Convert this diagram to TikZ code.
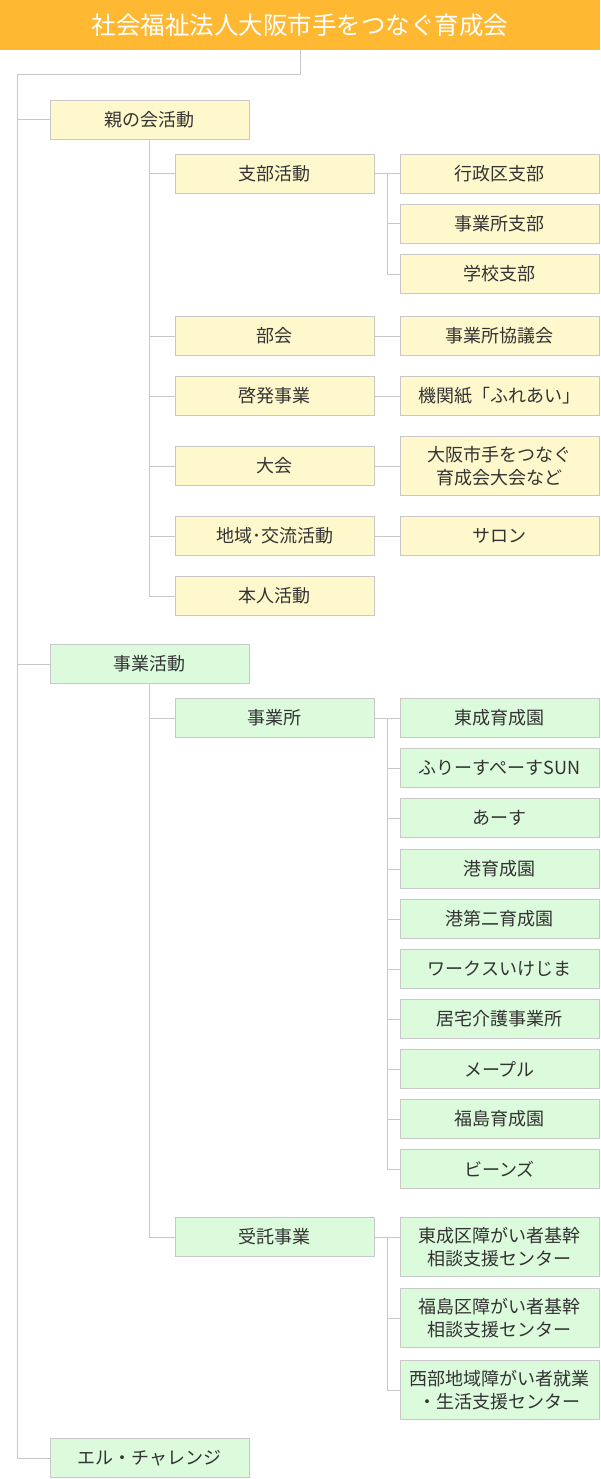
\documentclass[tikz,border=0pt]{standalone}
\usepackage{fontspec}
\setmainfont{Noto Sans CJK JP}
\definecolor{titre}{RGB}{255,184,50}
\definecolor{jaune}{RGB}{255,248,204}
\definecolor{vert}{RGB}{220,250,220}
\definecolor{trait}{RGB}{200,200,200}
\definecolor{texte}{RGB}{51,51,51}

\begin{document}
\begin{tikzpicture}[x=1pt, y=-1pt]
\tikzset{boite/.style={draw=trait, line width=1pt, minimum width=199pt, minimum height=39pt, inner sep=0pt, align=center, text=texte, font=\fontsize{18}{22.5}\selectfont},
jboite/.style={boite, fill=jaune},
vboite/.style={boite, fill=vert},
lien/.style={draw=trait, line width=1pt}}
\useasboundingbox (0,0) rectangle (600,1479);
\fill[white] (0,0) rectangle (600,1479);
\node[fill=titre, minimum width=600pt, minimum height=50pt, inner sep=0pt, text=white, font=\fontsize{24.5}{28}\selectfont] (titre) at (300,25) {社会福祉法人大阪市手をつなぐ育成会};
% niveau 1
\node[jboite] (oya) at (149.5,120) {親の会活動};
\node[vboite] (jigyo) at (149.5,664) {事業活動};
\node[vboite] (el) at (149.5,1458) {エル・チャレンジ};
%親の会活動
\node[jboite] (shibu) at (274.5,174) {支部活動};
\node[jboite] (bukai) at (274.5,336) {部会};
\node[jboite] (keihatsu) at (274.5,396) {啓発事業};
\node[jboite] (taikai) at (274.5,466) {大会};
\node[jboite] (chiiki) at (274.5,536) {地域･交流活動};
\node[jboite] (honnin) at (274.5,596) {本人活動};
\node[jboite] (gyosei) at (499.5,174) {行政区支部};
\node[jboite] (jshibu) at (499.5,224) {事業所支部};
\node[jboite] (gakko) at (499.5,274) {学校支部};
\node[jboite] (kyogi) at (499.5,336) {事業所協議会};
\node[jboite] (kikan) at (499.5,396) {機関紙「ふれあい」};
\node[jboite, minimum height=59pt] (tkai) at (499.5,466) {大阪市手をつなぐ\\育成会大会など};
\node[jboite] (salon) at (499.5,536) {サロン};
% 事業活動
\node[vboite] (jsho) at (274.5,718) {事業所};
\node[vboite] (itaku) at (274.5,1237) {受託事業};
\node[vboite] (E1) at (499.5,718) {東成育成園};
\node[vboite] (E2) at (499.5,768) {ふりーすぺーすSUN};
\node[vboite] (E3) at (499.5,818) {あーす};
\node[vboite] (E4) at (499.5,869) {港育成園};
\node[vboite] (E5) at (499.5,919) {港第二育成園};
\node[vboite] (E6) at (499.5,969) {ワークスいけじま};
\node[vboite] (E7) at (499.5,1019) {居宅介護事業所};
\node[vboite] (E8) at (499.5,1069) {メープル};
\node[vboite] (E9) at (499.5,1119) {福島育成園};
\node[vboite] (E10) at (499.5,1169) {ビーンズ};
\node[vboite, minimum height=59pt] (C1) at (499.5,1247) {東成区障がい者基幹\\相談支援センター};
\node[vboite, minimum height=59pt] (C2) at (499.5,1318) {福島区障がい者基幹\\相談支援センター};
\node[vboite, minimum height=59pt] (C3) at (499.5,1390) {西部地域障がい者就業\\・生活支援センター};
% traits
\coordinate (T) at (17,75);
\coordinate (b1) at (387,174);
\coordinate (b2) at (387,718);
\coordinate (b3) at (387,1237);
\draw[lien] (titre.south) |- (T) |- (el.west);
\draw[lien] (T |- oya.west) -- (oya.west);
\draw[lien] (T |- jigyo.west) -- (jigyo.west);
\draw[lien] (oya.south) |- (honnin.west);
\draw[lien] (oya.south |- shibu.west) -- (shibu.west);
\draw[lien] (oya.south |- bukai.west) -- (bukai.west);
\draw[lien] (oya.south |- keihatsu.west) -- (keihatsu.west);
\draw[lien] (oya.south |- taikai.west) -- (taikai.west);
\draw[lien] (oya.south |- chiiki.west) -- (chiiki.west);
\draw[lien] (shibu.east) -- (gyosei.west);
\draw[lien] (b1) |- (jshibu.west);
\draw[lien] (b1) |- (gakko.west);
\draw[lien] (bukai.east) -- (kyogi.west);
\draw[lien] (keihatsu.east) -- (kikan.west);
\draw[lien] (taikai.east) -- (tkai.west);
\draw[lien] (chiiki.east) -- (salon.west);
\draw[lien] (jigyo.south) |- (itaku.west);
\draw[lien] (jigyo.south |- jsho.west) -- (jsho.west);
\draw[lien] (jsho.east) -- (E1.west);
\draw[lien] (b2) |- (E10.west);
\draw[lien] (b2 |- E2.west) -- (E2.west);
\draw[lien] (b2 |- E3.west) -- (E3.west);
\draw[lien] (b2 |- E4.west) -- (E4.west);
\draw[lien] (b2 |- E5.west) -- (E5.west);
\draw[lien] (b2 |- E6.west) -- (E6.west);
\draw[lien] (b2 |- E7.west) -- (E7.west);
\draw[lien] (b2 |- E8.west) -- (E8.west);
\draw[lien] (b2 |- E9.west) -- (E9.west);
\draw[lien] (itaku.east) -- (C1.west |- itaku.east);
\draw[lien] (b3) |- (C3.west);
\draw[lien] (b3 |- C2.west) -- (C2.west);
\end{tikzpicture}
\end{document}
